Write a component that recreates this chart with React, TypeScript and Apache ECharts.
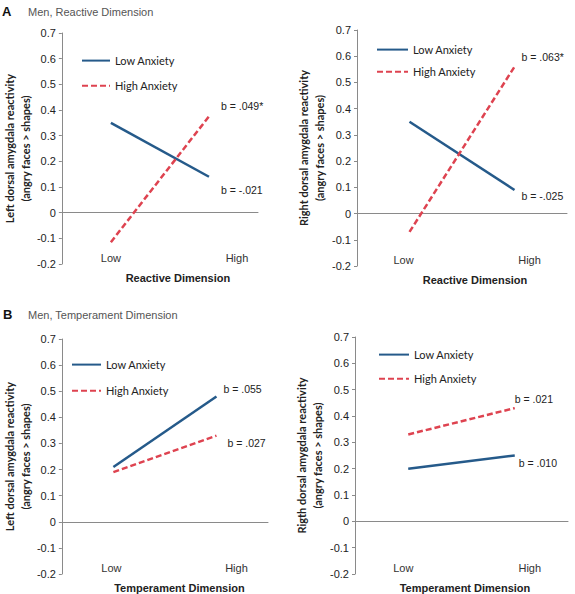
import React, { useEffect, useRef } from "react";
import * as echarts from "echarts";

// ---------- data ----------
const categories = ["Low", "High"];
const seriesNames = ["Low Anxiety", "High Anxiety"];
const panelLetters = ["A", "", "B", ""];
const panelTitles = ["Men, Reactive Dimension", "", "Men, Temperament Dimension", ""];
const xTitles = ["Reactive Dimension", "Reactive Dimension", "Temperament Dimension", "Temperament Dimension"];
const yTitleLine1 = [
  "Left dorsal amygdala reactivity",
  "Right dorsal amygdala reactivity",
  "Left dorsal amygdala reactivity",
  "Rigth dorsal amygdala reactivity",
];
const yTitleLine2 = ["(angry faces > shapes)", "(angry faces > shapes)", "(angry faces > shapes)", "(angry faces > shapes)"];
const yMin = -0.2;
const yMax = 0.7;
const yStep = 0.1;
// values at [Low, High] for each panel
const lowAnxiety = [
  [0.35, 0.14],
  [0.35, 0.09],
  [0.21, 0.48],
  [0.2, 0.25],
];
const highAnxiety = [
  [-0.115, 0.375],
  [-0.07, 0.56],
  [0.19, 0.33],
  [0.33, 0.43],
];
const lowSlopes = ["b = -.021", "b = -.025", "b = .055", "b = .010"];
const highSlopes = ["b = .049*", "b = .063*", "b = .027", "b = .021"];

// ---------- layout / style ----------
const BLUE = "#255a8a";
const RED = "#de4350";
const AXIS = "#8a8a8a";
const grids = [
  { left: 59, top: 33, width: 199, height: 231 },
  { left: 357, top: 30, width: 210, height: 236 },
  { left: 59, top: 339, width: 209, height: 235 },
  { left: 355, top: 337, width: 213, height: 239 },
];
const legendPos = [
  { left: 81, top: 55, itemGap: 14, itemWidth: 28 },
  { left: 376, top: 44, itemGap: 11, itemWidth: 31 },
  { left: 71, top: 359, itemGap: 15, itemWidth: 29 },
  { left: 378, top: 349, itemGap: 13, itemWidth: 30 },
];
const lowLabelShift = [0, -6, -2, -5];
const highLabelShift = [28, 15, 20, 15];
const xTitlePad = [36, 26, 29, 7];
const yNameGap = [28, 30, 28, 30];
const lowEndOffset = [
  [12, 13],
  [7, 6],
  [7, -7],
  [4, 7],
];
const highEndOffset = [
  [12, -10],
  [7, -10],
  [11, 7],
  [0, -9],
];
const headerPos = [
  { lx: 2, tx: 28, y: 11 },
  null,
  { lx: 3, tx: 28, y: 314 },
  null,
];

const SANS = "'Liberation Sans', Arial, sans-serif";
const CAL = "Lato, 'Open Sans', sans-serif";

function buildOption() {
  const xAxis: any[] = [];
  const yAxis: any[] = [];
  const series: any[] = [];
  const legend: any[] = [];
  const graphic: any[] = [];

  grids.forEach((g, i) => {
    // zero line axis
    xAxis.push({
      type: "category",
      gridIndex: i,
      data: categories,
      boundaryGap: true,
      axisLine: { show: true, onZero: true, lineStyle: { color: AXIS, width: 1 } },
      axisTick: { show: false },
      axisLabel: { show: false },
      splitLine: { show: false },
    });
    // label axis at the bottom
    xAxis.push({
      type: "category",
      gridIndex: i,
      data: categories,
      position: "bottom",
      boundaryGap: true,
      axisLine: { show: false, onZero: false },
      axisTick: { show: false },
      splitLine: { show: false },
      axisLabel: {
        show: true,
        margin: -12,
        fontFamily: SANS,
        fontSize: 11,
        color: "#333",
        formatter: (v: string) => (v === categories[0] ? "{lo|" + v + "}" : "{hi|" + v + "}"),
        rich: {
          lo: {
            fontFamily: SANS,
            fontSize: 11,
            color: "#333",
            padding: lowLabelShift[i] >= 0 ? [0, 0, 0, 2 * lowLabelShift[i]] : [0, -2 * lowLabelShift[i], 0, 0],
          },
          hi: {
            fontFamily: SANS,
            fontSize: 11,
            color: "#333",
            padding: highLabelShift[i] >= 0 ? [0, 0, 0, 2 * highLabelShift[i]] : [0, -2 * highLabelShift[i], 0, 0],
          },
        },
      },
      name: xTitles[i],
      nameLocation: "middle",
      nameGap: 8,
      nameTextStyle: {
        fontFamily: SANS,
        fontSize: 11,
        fontWeight: "bold",
        color: "#222",
        verticalAlign: "top",
        padding: [0, 0, 0, xTitlePad[i]],
      },
    });
    yAxis.push({
      type: "value",
      gridIndex: i,
      min: yMin,
      max: yMax,
      interval: yStep,
      axisLine: { show: true, lineStyle: { color: AXIS, width: 1 } },
      axisTick: { show: true, inside: false, length: 3, lineStyle: { color: AXIS } },
      splitLine: { show: false },
      axisLabel: {
        fontFamily: SANS,
        fontSize: 11,
        color: "#222",
        margin: 6,
        formatter: (v: number) => (Math.abs(v) < 1e-9 ? "0" : (Math.round(v * 10) / 10).toFixed(1)),
      },
      name: yTitleLine1[i] + "\n" + yTitleLine2[i],
      nameLocation: "middle",
      nameGap: yNameGap[i],
      nameTextStyle: {
        fontFamily: CAL,
        fontSize: 11,
        fontWeight: "bold",
        color: "#222",
        lineHeight: 16,
      },
    });
    series.push({
      name: seriesNames[0],
      type: "line",
      xAxisIndex: 2 * i,
      yAxisIndex: i,
      data: lowAnxiety[i],
      symbol: "none",
      silent: true,
      lineStyle: { color: BLUE, width: 2.5, type: "solid" },
      itemStyle: { color: BLUE },
      endLabel: {
        show: true,
        formatter: () => lowSlopes[i],
        fontFamily: SANS,
        fontSize: 10.5,
        color: "#222",
        distance: 0,
        offset: lowEndOffset[i],
      },
    });
    series.push({
      name: seriesNames[1],
      type: "line",
      xAxisIndex: 2 * i,
      yAxisIndex: i,
      data: highAnxiety[i],
      symbol: "none",
      silent: true,
      lineStyle: { color: RED, width: 2.5, type: [6, 3] },
      itemStyle: { color: RED },
      endLabel: {
        show: true,
        formatter: () => highSlopes[i],
        fontFamily: SANS,
        fontSize: 10.5,
        color: "#222",
        distance: 0,
        offset: highEndOffset[i],
      },
    });
    const lp = legendPos[i];
    legend.push({
      data: seriesNames,
      orient: "vertical",
      left: lp.left,
      top: lp.top,
      itemGap: lp.itemGap,
      itemWidth: lp.itemWidth,
      itemHeight: 14,
      padding: 0,
      selectedMode: false,
      itemStyle: { opacity: 0 },
      textStyle: { fontFamily: CAL, fontSize: 11, color: "#222" },
    });
    const hp = headerPos[i];
    if (hp) {
      graphic.push({
        type: "text",
        x: hp.lx,
        y: hp.y,
        style: {
          text: panelLetters[i],
          font: "bold 13px " + SANS,
          fill: "#111",
          verticalAlign: "middle",
        },
      });
      graphic.push({
        type: "text",
        x: hp.tx,
        y: hp.y + 1,
        style: {
          text: panelTitles[i],
          font: "11px " + SANS,
          fill: "#555",
          verticalAlign: "middle",
        },
      });
    }
  });

  return {
    animation: false,
    backgroundColor: "#ffffff",
    grid: grids.map((g) => ({ ...g, containLabel: false })),
    xAxis,
    yAxis,
    series,
    legend,
    graphic,
  };
}

export default function App() {
  const ref = useRef<HTMLDivElement>(null);
  useEffect(() => {
    if (!ref.current) return;
    const chart = echarts.init(ref.current, undefined, { renderer: "svg" });
    chart.setOption(buildOption() as any);
    return () => chart.dispose();
  }, []);
  return (
    <div
      ref={ref}
      style={{ position: "absolute", left: 0, top: 0, width: 575, height: 594, background: "#fff" }}
    />
  );
}
